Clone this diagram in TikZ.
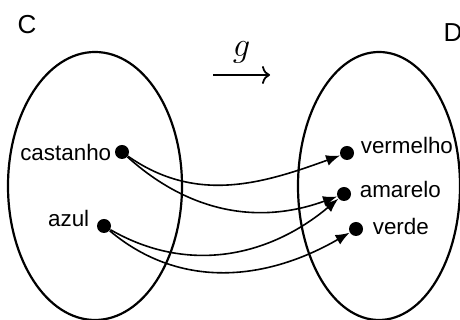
\documentclass[tikz,border=0pt]{standalone}
\usepackage{fontspec}
\setmainfont{Liberation Sans}
\usetikzlibrary{positioning, shapes.geometric, arrows.meta}

\begin{document}
\begin{tikzpicture}[x=0.5pt, y=0.5pt, >={Latex[length=7pt, width=5.5pt]}, font=\fontsize{11.2}{13}\selectfont]
    \tikzstyle{set} = [ellipse, draw, line width=1.1pt, inner sep=0pt]
    \tikzstyle{elem} = [circle, fill=black, inner sep=0pt, minimum size=7pt]
    \tikzstyle{word} = [inner sep=0pt]
    \tikzstyle{map} = [->, line width=0.8pt]

    \useasboundingbox (0,0) rectangle (460,320);

    % the two sets
    \node[set, minimum width=87pt, minimum height=134pt] (setC) at (95,134) {};
    \node[set, minimum width=81pt, minimum height=134pt] (setD) at (379,134) {};
    \node[font=\fontsize{13}{15}\selectfont] (nameC) at (27,295) {C};
    \node[font=\fontsize{13}{15}\selectfont] (nameD) at (453,287) {D};

    % elements of C
    \node[elem] (castanho) at (122,168) {};
    \node[elem] (azul) at (104,94) {};
    \node[word, left=1.5pt of castanho] (lcastanho) {castanho};
    \node[word, left=3.5pt of azul, yshift=4pt] (lazul) {azul};

    % elements of D
    \node[elem] (vermelho) at (347,167) {};
    \node[elem] (amarelo) at (344,126) {};
    \node[elem] (verde) at (356,91) {};
    \node[word, right=3pt of vermelho, yshift=3.5pt] (lvermelho) {vermelho};
    \node[word, right=4pt of amarelo, yshift=2.5pt] (lamarelo) {amarelo};
    \node[word, right=4.5pt of verde, yshift=1.5pt] (lverde) {verde};

    % the map g
    \coordinate (gfrom) at (213,245);
    \coordinate (gto) at (270,245);
    \draw[-{To[length=4pt, width=9pt]}, line width=0.9pt] (gfrom) -- (gto)
        node[midway, above=2pt, font=\fontsize{17}{19}\selectfont] (gname) {$g$};

    \draw[map] (castanho) to[out=-35, in=200] (vermelho);
    \draw[map] (castanho) to[out=-42, in=200] (amarelo);
    \draw[map] (azul) to[out=-30, in=220] (amarelo);
    \draw[map] (azul) to[out=-40, in=210] (verde);
\end{tikzpicture}
\end{document}
